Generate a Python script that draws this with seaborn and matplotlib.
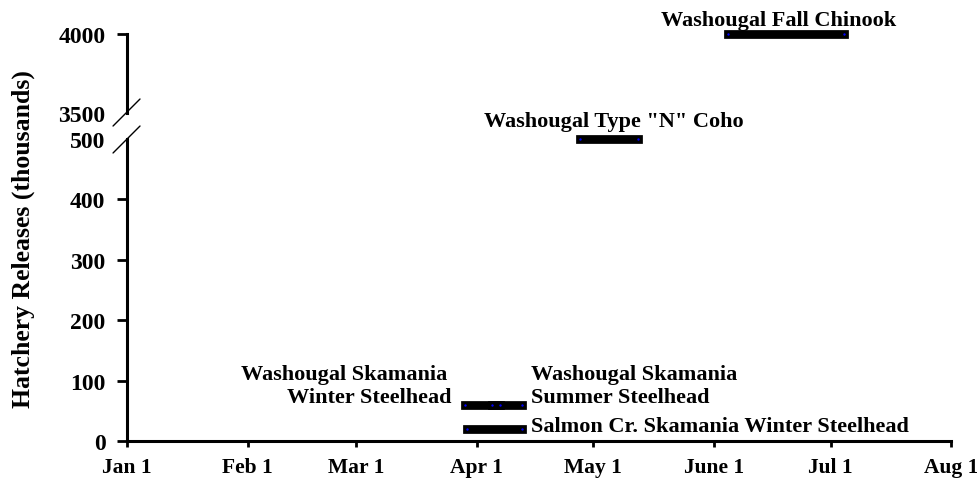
import numpy as np
import pandas as pd
import matplotlib.pyplot as plt
import seaborn as sns
from matplotlib.lines import Line2D

# release windows, x = day of year (Jan 1 = 0), y = fish released (thousands)
releases = [
    "Washougal Skamania Winter Steelhead",
    "Washougal Skamania Summer Steelhead",
    "Salmon Cr. Skamania Winter Steelhead",
    'Washougal Type "N" Coho',
    "Washougal Fall Chinook",
]
start_day = [87, 94, 87.5, 116.5, 154.5]
end_day = [96, 101.5, 101.5, 131.5, 184.5]
released_k = [60, 60, 20, 500, 4000]

month_days = [0, 31, 59, 90, 120, 151, 181, 212]
month_labels = ["Jan 1", "Feb 1", "Mar 1", "Apr 1", "May 1", "June 1", "Jul 1", "Aug 1"]
low_ticks = [0, 100, 200, 300, 400, 500]
high_ticks = [3500, 4000]

df = pd.DataFrame({
    "release": releases * 2,
    "day": start_day + end_day,
    "thousands": released_k * 2,
})
df["panel"] = np.where(df["thousands"] >= 3500, "high", "low")

sns.set_style("white")
plt.rcParams["font.family"] = ["Liberation Serif", "DejaVu Serif"]
plt.rcParams["font.weight"] = "bold"
plt.rcParams["font.size"] = 16
plt.rcParams["text.color"] = "black"

fig = plt.figure(figsize=(9.77, 4.85), dpi=100)
ax_hi = fig.add_axes([0.1300, 0.7649, 0.8434, 0.1629])
ax_lo = fig.add_axes([0.1300, 0.0887, 0.8434, 0.6227])

for ax, part in ((ax_hi, "high"), (ax_lo, "low")):
    sub = df[df["panel"] == part]
    sns.lineplot(data=sub, x="day", y="thousands", units="release", estimator=None,
                 color="black", lw=6.3, solid_capstyle="projecting", legend=False, ax=ax)
    sns.scatterplot(data=sub, x="day", y="thousands", color="blue", s=3, linewidth=0,
                    zorder=3, legend=False, ax=ax)
    for art in ax.lines + ax.collections:
        art.set_clip_on(False)
    ax.set_xlim(0, 212)
    ax.set_xlabel("")
    ax.set_ylabel("")
    ax.patch.set_alpha(0)
    for s in ["top", "right"]:
        ax.spines[s].set_visible(False)
    for s in ["left", "bottom"]:
        ax.spines[s].set_linewidth(2.2)
        ax.spines[s].set_color("black")
    ax.tick_params(axis="y", left=True, direction="out", length=7.5, width=2, pad=8,
                   colors="black", labelsize=17)

# upper panel 3500-4000
ax_hi.set_ylim(3500, 4000)
ax_hi.set_yticks(high_ticks)
ax_hi.spines["bottom"].set_visible(False)
ax_hi.set_xticks([])
ax_hi.yaxis.get_major_ticks()[0].tick1line.set_visible(False)

# lower panel 0-500
ax_lo.set_ylim(0, 500)
ax_lo.set_yticks(low_ticks)
ax_lo.set_xticks(month_days)
ax_lo.set_xticklabels(month_labels)
ax_lo.tick_params(axis="x", bottom=True, direction="out", length=4.5, width=2, pad=7,
                  colors="black", labelsize=15.5)
ax_lo.yaxis.get_major_ticks()[-1].tick1line.set_visible(False)

# axis break marks
for y0, y1 in ((0.7381, 0.7938), (0.6825, 0.7381)):
    fig.add_artist(Line2D([0.1157, 0.1433], [y0, y1], transform=fig.transFigure, color="black", lw=1))

# labels
ax_hi.text(167.6, 4057, "Washougal Fall Chinook", ha="center", va="baseline")
ax_lo.text(125.2, 522, 'Washougal Type "N" Coho', ha="center", va="baseline")
ax_lo.text(82.3, 102.6, "Washougal Skamania", ha="right", va="baseline")
ax_lo.text(83.6, 64, "Winter Steelhead", ha="right", va="baseline")
ax_lo.text(104, 102.6, "Washougal Skamania", ha="left", va="baseline")
ax_lo.text(104, 64, "Summer Steelhead", ha="left", va="baseline")
ax_lo.text(104, 16.6, "Salmon Cr. Skamania Winter Steelhead", ha="left", va="baseline")

fig.text(23 / 977, 1 - 239 / 485, "Hatchery Releases (thousands)", rotation=90,
         ha="center", va="center", fontsize=18.5)

fig.savefig("out.png", dpi=100, facecolor="white")
